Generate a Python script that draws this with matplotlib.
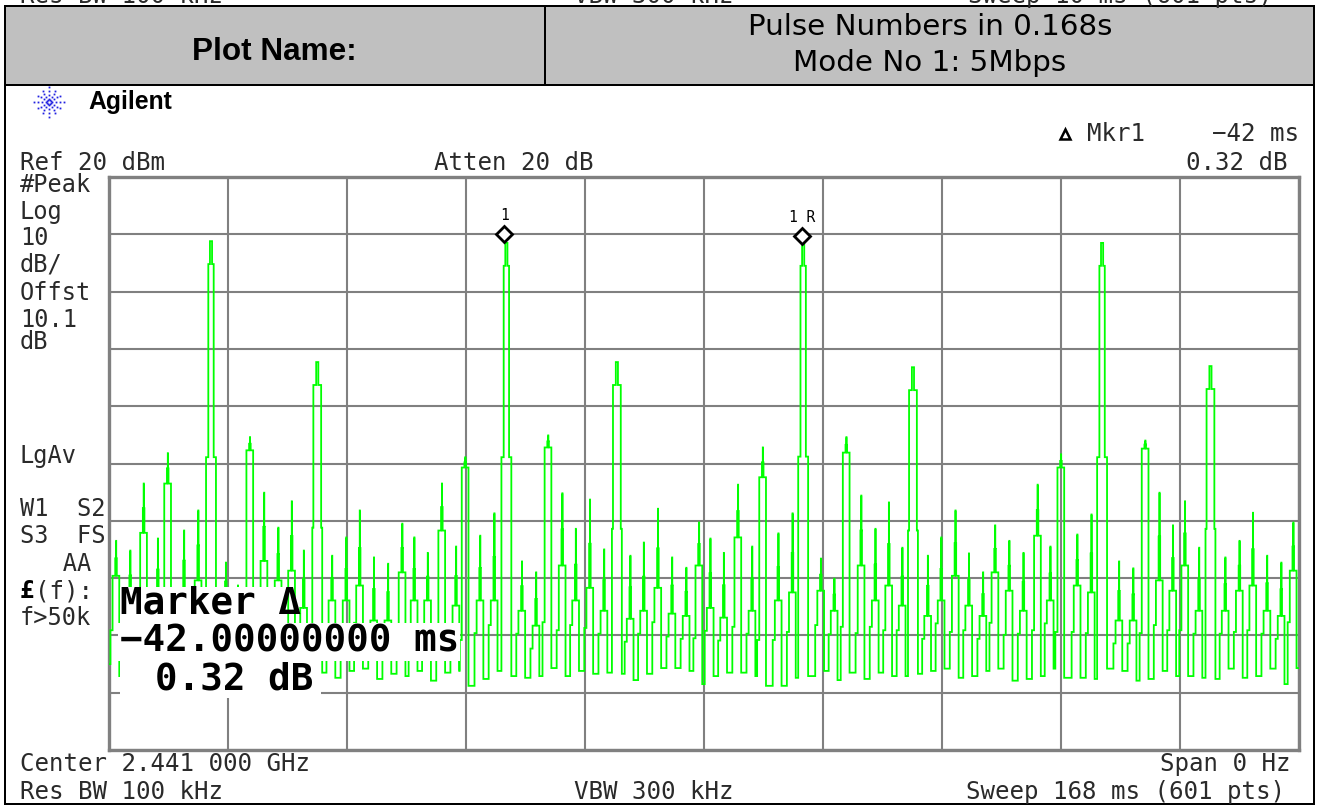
import numpy as np
import matplotlib
matplotlib.use("Agg")
import matplotlib.pyplot as plt
from matplotlib.patches import Rectangle

# values: one entry per pulse
# pulse position in ms
pulse_time = [1.0, 3.0, 4.9, 6.9, 8.3, 10.6, 12.6, 14.4, 16.5, 18.2, 19.9, 21.9, 23.9, 25.8, 27.5, 29.4, 31.5, 33.5,
              35.4, 37.4, 39.4, 41.4, 43.1, 45.0, 47.0, 49.0, 50.3, 52.4, 54.4, 56.1, 58.3, 60.3, 62.0, 64.0, 65.9,
              67.9, 69.9, 71.7, 73.6, 75.5, 77.5, 79.5, 81.5, 83.3, 84.9, 86.8, 88.8, 90.8, 92.3, 94.5, 96.5, 98.0,
              100.5, 102.4, 104.1, 106.2, 108.2, 110.1, 112.0, 113.5, 115.6, 117.5, 119.5, 121.4, 123.4, 125.1,
              127.1, 129.1, 131.1, 132.9, 134.4, 136.7, 138.7, 140.2, 142.6, 144.6, 146.3, 148.3, 150.2, 151.9,
              153.9, 155.5, 157.6, 159.6, 161.5, 163.5, 165.5, 167.2]
# tip of the pulse in dBm
pulse_peak = [-43.5, -45.2, -33.5, -43.1, -28.2, -41.7, -38.2, 8.8, -47.3, -51.3, -25.4, -35.1, -41.2, -36.6, -45.2,
              -12.3, -46.1, -42.9, -38.2, -46.4, -47.5, -40.5, -42.9, -45.6, -33.5, -44.5, -28.9, -42.6, -38.7, 8.5,
              -47.1, -49.0, -25.1, -35.2, -41.4, -36.3, -45.0, -12.3, -46.1, -43.8, -37.9, -46.4, -48.2, -40.3, -43.1,
              -45.6, -33.7, -44.5, -27.2, -42.2, -38.7, 8.5, -46.6, -50.1, -25.4, -35.6, -41.4, -36.8, -44.7, -13.2,
              -46.1, -42.9, -38.2, -45.7, -49.0, -40.8, -43.5, -45.6, -33.7, -44.5, -28.4, -42.4, -38.9, 8.5, -47.1,
              -48.3, -26.0, -35.1, -40.8, -36.6, -44.7, -13.0, -46.4, -43.5, -38.6, -46.1, -47.3, -40.3]
# level of the wider shelf under the tip
pulse_shelf = [-49.6, -53.9, -42.1, -53.9, -33.5, -52.2, -50.4, -28.9, -53.9, -55.7, -27.7, -47.0, -50.4, -48.7, -55.2,
               -41.2, -53.9, -53.9, -51.3, -57.4, -57.4, -49.0, -53.9, -53.9, -41.7, -54.8, -30.7, -53.9, -53.9, -28.9,
               -55.7, -58.3, -27.2, -47.8, -53.9, -51.7, -55.7, -41.4, -57.1, -55.7, -51.7, -56.2, -56.6, -47.8, -55.2,
               -56.9, -42.9, -55.7, -32.4, -53.9, -52.5, -28.8, -52.2, -55.7, -28.1, -47.8, -53.9, -51.3, -54.8, -41.7,
               -56.6, -53.9, -49.6, -54.8, -56.6, -49.0, -52.2, -55.7, -42.6, -53.9, -30.7, -51.3, -52.5, -28.9, -57.4,
               -57.4, -27.4, -50.4, -52.2, -47.8, -55.7, -41.4, -55.7, -52.2, -51.3, -55.7, -56.6, -48.7]
# floor the trace falls to after the pulse
pulse_floor = [-67.1, -66.2, -66.7, -67.1, -66.5, -66.7, -67.4, -66.2, -67.1, -66.5, -66.7, -67.4, -66.2, -67.1, -66.7,
               -66.5, -67.4, -66.2, -65.8, -67.6, -66.7, -67.1, -66.2, -67.9, -66.5, -66.2, -68.8, -67.6, -66.2, -67.1,
               -67.4, -67.1, -65.7, -67.1, -66.2, -66.7, -66.5, -66.7, -67.8, -66.7, -65.7, -65.7, -66.2, -68.5, -67.1,
               -66.5, -66.5, -67.1, -68.8, -68.8, -67.4, -67.1, -66.2, -67.8, -66.5, -67.6, -66.5, -67.1, -67.1, -66.7,
               -66.2, -65.8, -67.4, -67.1, -66.2, -65.8, -67.9, -67.6, -67.1, -65.8, -67.4, -67.4, -67.6, -65.8, -66.2,
               -67.9, -67.6, -66.2, -67.1, -67.1, -67.4, -67.6, -65.8, -67.4, -67.1, -65.8, -68.5, -65.7]
trace_start = -65.0

marker_time = [55.8, 97.8]
marker_level = [10.0, 9.7]
marker_names = ["1", "1 R"]

x_ticks = np.arange(0, 168.1, 16.8)
y_ticks = np.arange(-80, 21, 10)

W, H = 1319, 806
GRID = "#808080"
GREEN = "#00FF00"
MONO = "DejaVu Sans Mono"
SANS = "Liberation Sans"


def build_trace():
    xs, ys = [0.0], [trace_start]
    for t, peak, shelf, floor in zip(pulse_time, pulse_peak, pulse_shelf, pulse_floor, strict=True):
        if peak > -20:
            # tall pulses stay an open double line right up to the tip
            hw = 0.38 if peak > 0 else 0.55
            xs += [t - 0.7, t - hw, t - 0.15, t + 0.15, t + hw, t + 0.7]
            ys += [shelf, peak - 4, peak, peak - 4, shelf, floor]
        else:
            # small ones: solid lower half, single line at the tip
            mid = peak - 0.5 * (peak - shelf)
            xs += [t - 0.8, t - 0.5, t - 0.12, t, t + 0.02, t + 0.1, t + 0.45]
            ys += [min(shelf - 4, floor + 8), shelf, mid, peak, mid, shelf, floor]
    xs.append(168.0)
    ys.append(ys[-1])
    return xs, ys


fig = plt.figure(figsize=(W / 100, H / 100), dpi=100, facecolor="white")

# the analyser plot, placed by pixels
left, right, top, bottom = 109, 1299, 177, 750
ax = fig.add_axes((left / W, 1 - bottom / H, (right - left) / W, (bottom - top) / H))
ax.set_xlim(0, 168)
ax.set_ylim(-80, 20)
ax.set_xticks(x_ticks)
ax.set_yticks(y_ticks)
ax.tick_params(length=0, labelbottom=False, labelleft=False)
ax.grid(True, color=GRID, lw=1.5)
ax.set_axisbelow(True)
for s in ax.spines.values():
    s.set_color(GRID)
    s.set_linewidth(2.4)

trace_x, trace_y = build_trace()
ax.step(trace_x, trace_y, where="post", color=GREEN, lw=1.3, solid_joinstyle="miter", zorder=3)
ax.plot(marker_time, marker_level, ls="none", marker="D", ms=8, mfc="white", mec="black", mew=2, zorder=5)
for t, lv, name in zip(marker_time, marker_level, marker_names):
    ax.annotate(name, (t, lv), xytext=(0, 8), textcoords="offset points", ha="center", va="bottom",
                family=MONO, fontsize=10.5, zorder=6)

# everything around the plot lives in a page layer using pixel coordinates
page = fig.add_axes((0, 0, 1, 1), zorder=10)
page.set_xlim(0, W)
page.set_ylim(H, 0)
page.set_axis_off()


def box(x0, y0, x1, y1, color):
    page.add_patch(Rectangle((x0, y0), x1 - x0, y1 - y0, fc=color, ec="none"))


def label(x, y, s, size=17.4, ha="left", family=MONO, **kw):
    page.text(x, y, s, fontsize=size, ha=ha, va="center", family=family, color=kw.pop("color", "#2a2a2a"), **kw)


# marker readout masks the trace
box(120, 587, 287, 623, "white")
box(118, 623, 460, 661, "white")
box(120, 661, 321, 698, "white")
label(120, 604, "Marker Δ", size=27, weight="bold", color="black")
label(120, 642, "−42.00000000 ms", size=27, weight="bold", color="black")
label(155, 680, "0.32 dB", size=27, weight="bold", color="black")

# page frame and header band
box(5, 6, 1314, 85, "#C0C0C0")
box(4, 5, 1315, 7, "black")
box(4, 84, 1315, 86, "black")
box(544, 6, 546, 85, "black")
box(4, 5, 6, 805, "black")
box(1313, 5, 1315, 805, "black")
box(4, 803, 1315, 805, "black")
label(274, 52, "Plot Name:", size=22.7, ha="center", family=SANS, weight="bold", color="black")
label(930, 27, "Pulse Numbers in 0.168s", size=21.2, ha="center", family="DejaVu Sans", color="black")
label(930, 63, "Mode No 1: 5Mbps", size=21.2, ha="center", family="DejaVu Sans", color="black")

# bottom of the previous plot's caption, cut by the page edge
for x, s in [(20, "Res BW 100 kHz"), (574, "VBW 300 kHz"), (968, "Sweep 10 ms (601 pts)")]:
    page.text(x, 3, s, fontsize=17.4, ha="left", va="baseline", family=MONO, color="#2a2a2a")

# Agilent spark
for a in np.deg2rad(np.arange(0, 360, 30)):
    r = np.array([3, 7, 11, 15]) * (1.0 if int(np.rad2deg(a)) % 90 == 0 else 0.85)
    page.plot(49 + r * np.cos(a), 102 + r * np.sin(a), ls="none", marker="s", ms=1.3, color="#2020E0", mew=0)
label(88, 102, "Agilent", size=17.8, family=SANS, weight="bold", color="black")

label(20, 163, "Ref 20 dBm")
label(434, 163, "Atten 20 dB")
page.plot([1065], [134], marker="^", ms=6.5, mfc="white", mec="black", mew=1.8)
label(1087, 134, "Mkr1")
label(1299, 134, "−42 ms", ha="right")
label(1288, 163, "0.32 dB", ha="right")

side = [(185, "#Peak"), (212, "Log"), (238, "10"), (265, "dB/"), (293, "Offst"), (320, "10.1"), (342, "dB"),
        (456, "LgAv"), (509, "W1  S2"), (536, "S3  FS"), (564, "   AA"), (618, "f>50k")]
for y, s in side:
    label(20, y, s, size=17)
label(20, 591, "£", weight="bold", color="black")
label(35, 591, "(f):")

label(20, 764, "Center 2.441 000 GHz")
label(1291, 764, "Span 0 Hz", ha="right")
label(20, 792, "Res BW 100 kHz")
label(574, 792, "VBW 300 kHz")
label(1285, 792, "Sweep 168 ms (601 pts)", ha="right")

fig.savefig("out.png", dpi=100, facecolor="white")
